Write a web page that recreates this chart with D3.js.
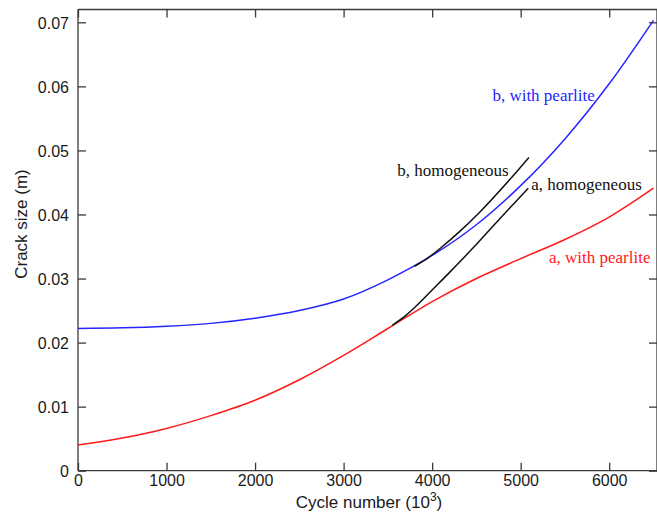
<!DOCTYPE html>
<html>
<head>
<meta charset="utf-8">
<script src="https://cdn.jsdelivr.net/npm/d3@7"></script>
<style>
  html, body { margin: 0; padding: 0; background: #fff; }
  svg { display: block; }
</style>
</head>
<body>
<svg id="chart" width="657" height="518"></svg>
<script>
// ---- data ----
const xTicks = [0, 1000, 2000, 3000, 4000, 5000, 6000];
const yTicks = [0, 0.01, 0.02, 0.03, 0.04, 0.05, 0.06, 0.07];
const yTickLabels = ["0", "0.01", "0.02", "0.03", "0.04", "0.05", "0.06", "0.07"];

const bPearliteX = [0, 500, 1000, 1500, 2000, 2500, 3000, 3500, 4000, 4500, 5000, 5500, 6000, 6500];
const bPearliteY = [0.0222, 0.0223, 0.02255, 0.0230, 0.0238, 0.0250, 0.0268, 0.0298, 0.0336, 0.0384, 0.0445, 0.0518, 0.0604, 0.0703];

const aPearliteX = [0, 500, 1000, 1500, 2000, 2500, 3000, 3500, 4000, 4500, 5000, 5500, 6000, 6500];
const aPearliteY = [0.0040, 0.0051, 0.0066, 0.0086, 0.0110, 0.0142, 0.0180, 0.0222, 0.0264, 0.0300, 0.0331, 0.0361, 0.0396, 0.0441];

const bHomoX = [3800, 3950, 4100, 4300, 4540, 4880, 5093];
const bHomoY = [0.0319, 0.0332, 0.0348, 0.0372, 0.0404, 0.0455, 0.0489];

const aHomoX = [3550, 3700, 3850, 4000, 4200, 4450, 4728, 5086];
const aHomoY = [0.0227, 0.0242, 0.0261, 0.0282, 0.0310, 0.0346, 0.0388, 0.0441];

const labels = ["b, with pearlite", "b, homogeneous", "a, homogeneous", "a, with pearlite"];
const xTitle = "Cycle number (10";
const xTitleSup = "3";
const yTitle = "Crack size (m)";

// ---- layout ----
const svg = d3.select("#chart");
const mLeft = 78, mRight = 657, mTop = 9.5, mBottom = 470.7;
const x = d3.scaleLinear().domain([0, 6540]).range([mLeft, mRight]);
const y = d3.scaleLinear().domain([0, 0.072]).range([mBottom, mTop]);

const axisColor = "#3a3a3a";
const tickFont = "Liberation Sans, Arial, sans-serif";

// frame lines
const frame = svg.append("g").attr("stroke", axisColor).attr("stroke-width", 1.3).attr("fill", "none");
frame.append("line").attr("x1", mLeft).attr("x2", mLeft).attr("y1", mTop).attr("y2", mBottom);
frame.append("line").attr("x1", mLeft).attr("x2", mRight).attr("y1", mBottom).attr("y2", mBottom);
frame.append("line").attr("x1", mLeft).attr("x2", mRight).attr("y1", mTop).attr("y2", mTop);
frame.append("line").attr("x1", mRight).attr("x2", mRight).attr("y1", mTop).attr("y2", mBottom);

// axes using d3 axis generators (ticks drawn inward)
const xAxisB = d3.axisBottom(x).tickValues(xTicks).tickSizeInner(-8).tickSizeOuter(0).tickPadding(4).tickFormat(d3.format("d"));
const gx = svg.append("g").attr("transform", `translate(0,${mBottom})`).call(xAxisB);
const xAxisT = d3.axisTop(x).tickValues(xTicks).tickSizeInner(-8).tickSizeOuter(0).tickFormat("");
const gxt = svg.append("g").attr("transform", `translate(0,${mTop})`).call(xAxisT);

const yAxisL = d3.axisLeft(y).tickValues(yTicks).tickSizeInner(-8).tickSizeOuter(0).tickPadding(9)
  .tickFormat((d, i) => yTickLabels[i]);
const gy = svg.append("g").attr("transform", `translate(${mLeft},0)`).call(yAxisL);
const yAxisR = d3.axisRight(y).tickValues(yTicks).tickSizeInner(-8).tickSizeOuter(0).tickFormat("");
const gyr = svg.append("g").attr("transform", `translate(${mRight},0)`).call(yAxisR);

[gx, gxt, gy, gyr].forEach(g => {
  g.select(".domain").remove();
  g.selectAll(".tick line").attr("stroke", axisColor).attr("stroke-width", 1.3);
  g.selectAll(".tick text").attr("fill", "#1a1a1a").attr("font-family", tickFont).attr("font-size", 16);
});
gy.selectAll(".tick text").attr("dy", "0.36em");

// curves
const line = d3.line().x(d => x(d[0])).y(d => y(d[1])).curve(d3.curveCatmullRom.alpha(0.5));
const series = [
  { xs: aPearliteX, ys: aPearliteY, color: "#ff1a1a" },
  { xs: bPearliteX, ys: bPearliteY, color: "#2525ff" },
  { xs: aHomoX, ys: aHomoY, color: "#111" },
  { xs: bHomoX, ys: bHomoY, color: "#111" }
];
series.forEach(s => {
  const pts = s.xs.map((v, i) => [v, s.ys[i]]);
  svg.append("path").attr("d", line(pts)).attr("fill", "none")
    .attr("stroke", s.color).attr("stroke-width", 1.5);
});

// annotations
const serif = "Liberation Serif, Times New Roman, serif";
const ann = [
  { t: labels[0], x: 5838, y: 0.0577, c: "#2525ff", anchor: "end" },
  { t: labels[1], x: 4865, y: 0.0460, c: "#111", anchor: "end" },
  { t: labels[2], x: 5120, y: 0.0438, c: "#111", anchor: "start" },
  { t: labels[3], x: 5320, y: 0.0325, c: "#ff1a1a", anchor: "start" }
];
ann.forEach(a => {
  svg.append("text").attr("x", x(a.x)).attr("y", y(a.y)).attr("text-anchor", a.anchor)
    .attr("font-family", serif).attr("font-size", 17).attr("fill", a.c).text(a.t);
});

// axis titles
const xt = svg.append("text").attr("x", 369).attr("y", 508).attr("text-anchor", "middle")
  .attr("font-family", tickFont).attr("font-size", 17).attr("fill", "#1a1a1a");
xt.append("tspan").text(xTitle);
xt.append("tspan").attr("font-size", 12).attr("dy", -7).text(xTitleSup);
xt.append("tspan").attr("dy", 7).text(")");

svg.append("text").attr("transform", `translate(27,224) rotate(-90)`).attr("text-anchor", "middle")
  .attr("font-family", tickFont).attr("font-size", 17).attr("fill", "#1a1a1a").text(yTitle);
</script>
</body>
</html>
